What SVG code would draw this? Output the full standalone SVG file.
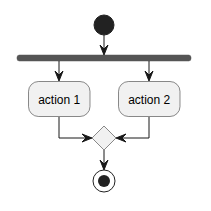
<svg xmlns="http://www.w3.org/2000/svg" width="211" height="211" viewBox="0 0 211 211">
<style>
.line{stroke:#181818;stroke-width:1;fill:none}
.head{fill:#181818;stroke:#181818;stroke-width:1}
.act{fill:#F1F1F1;stroke:#181818;stroke-width:0.5}
.lbl{font-family:"Liberation Sans",Arial,sans-serif;font-size:12px;fill:#000}
</style>
<rect width="211" height="211" fill="#FFFFFF"/>
<g id="start"><circle cx="104" cy="25" r="10" fill="#222222" stroke="#222222"/></g>
<g id="fork"><rect x="17" y="55" width="174" height="6" rx="2.5" fill="#555555" stroke="#555555" stroke-width="0.5"/></g>
<g id="action1"><rect class="act" x="28.5" y="81.5" width="61.5" height="35" rx="10"/><text class="lbl" x="59.2" y="103.5" text-anchor="middle">action 1</text></g>
<g id="action2"><rect class="act" x="118.5" y="81.5" width="61.5" height="35" rx="10"/><text class="lbl" x="149.2" y="103.5" text-anchor="middle">action 2</text></g>
<g id="merge"><polygon class="act" points="104,126 116,138 104,150 92,138"/></g>
<g id="end"><circle cx="104" cy="181" r="11" fill="none" stroke="#222222" stroke-width="1"/><circle cx="104" cy="181" r="6" fill="#222222" stroke="none"/></g>
<g id="connectors">
<line class="line" x1="104" y1="35" x2="104" y2="53"/>
<polygon class="head" points="100,45 104,55 108,45 104,49"/>
<line class="line" x1="59" y1="61" x2="59" y2="79"/>
<polygon class="head" points="55,71 59,81 63,71 59,75"/>
<line class="line" x1="149" y1="61" x2="149" y2="79"/>
<polygon class="head" points="145,71 149,81 153,71 149,75"/>
<polyline class="line" points="59,117 59,138 90,138"/>
<polygon class="head" points="82,134 92,138 82,142 86,138"/>
<polyline class="line" points="149,117 149,138 118,138"/>
<polygon class="head" points="126,134 116,138 126,142 122,138"/>
<line class="line" x1="104" y1="150" x2="104" y2="168"/>
<polygon class="head" points="100,160 104,170 108,160 104,164"/>
</g>
</svg>
